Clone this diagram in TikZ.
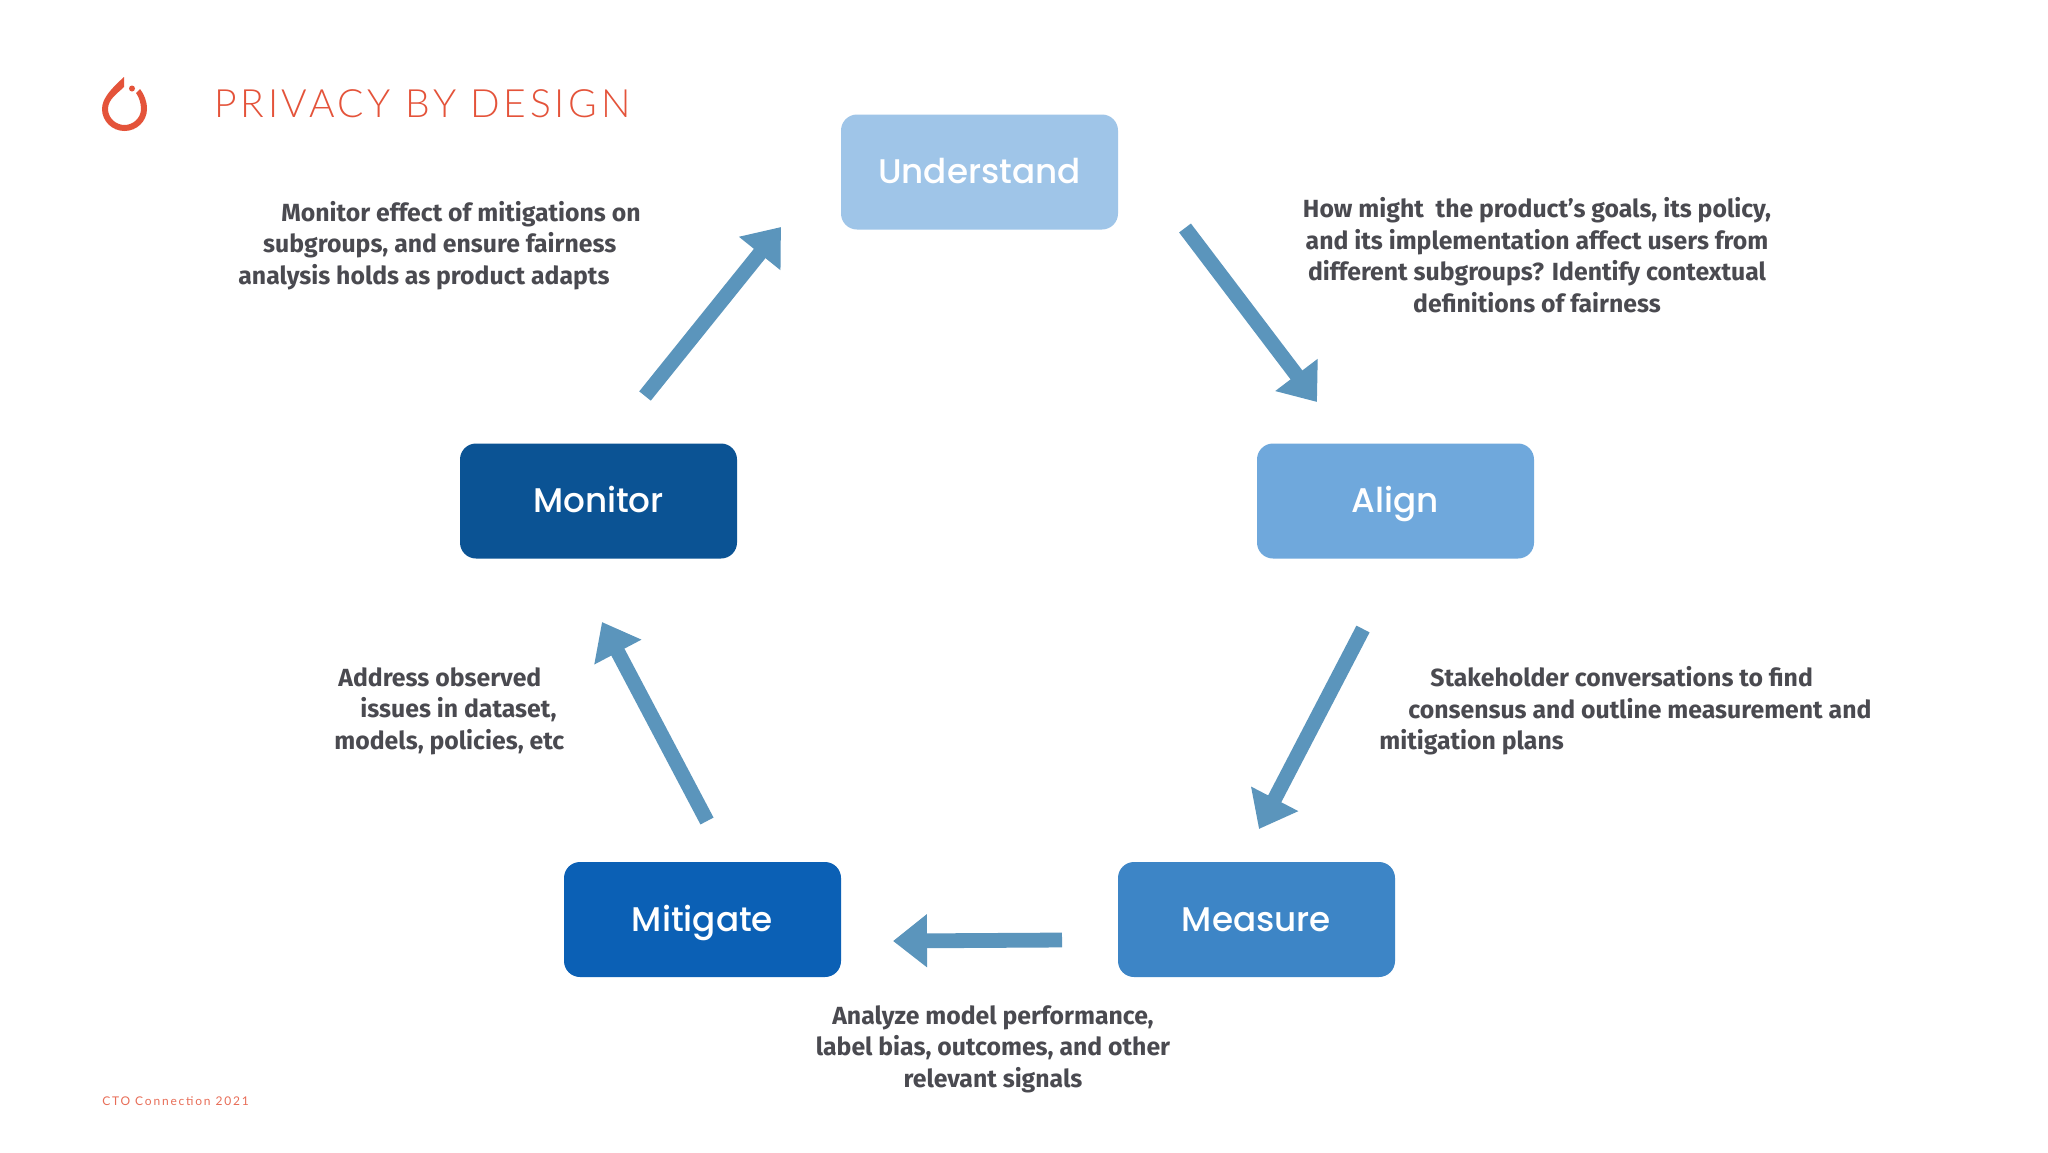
\documentclass[tikz,border=0pt]{standalone}
\usepackage{fontspec}
\usetikzlibrary{arrows.meta}
\setmainfont{Fira Sans}
\newfontfamily\boxfont{Poppins}[UprightFont={* Medium}]
\newfontfamily\titlefont{Lato}[UprightFont={* Light}]
\newfontfamily\footfont{Lato}
\definecolor{cUnder}{HTML}{9FC5E8}
\definecolor{cAlign}{HTML}{6FA8DC}
\definecolor{cMeasure}{HTML}{3D85C6}
\definecolor{cMitigate}{HTML}{0B60B5}
\definecolor{cMonitor}{HTML}{0B5394}
\definecolor{cArrow}{HTML}{5B95BC}
\definecolor{cText}{HTML}{4A4A50}
\definecolor{cRed}{HTML}{E4533A}
\tikzset{
  stagebox/.style={rectangle,rounded corners=8pt,minimum width=138.5pt,minimum height=57.5pt,inner sep=0pt,text=white,text height=14.4pt,text depth=2.8pt,font=\boxfont\fontsize{17.1}{20}\selectfont},
  flow/.style={draw=cArrow,line width=7.4pt,-{Triangle[length=17pt,width=25.5pt]}},
  note/.style={inner sep=0pt,text=cText,font=\fontsize{12.4}{15.75}\selectfont\bfseries},
}
\begin{document}
\begin{tikzpicture}[x=0.5pt,y=-0.5pt]
\path[use as bounding box,fill=white] (0,0) rectangle (2048,1152);
% logo
\fill[cRed] (124,77) .. controls (112,88) and (102,98) .. (102,109)
  .. controls (102,121) and (112,131) .. (124.5,131)
  .. controls (137,131) and (147,121) .. (147,109)
  .. controls (147,101) and (144,94) .. (140,89)
  -- (136,93) .. controls (139,97) and (141,103) .. (141,109)
  .. controls (141,118) and (133,125) .. (124.5,125)
  .. controls (116,125) and (108,118) .. (108,109)
  .. controls (108,99) and (118,93) .. (124,87) -- cycle;
\fill[cRed] (132,88.5) circle[radius=3];
\node[anchor=west,inner sep=0pt,text=cRed,font=\titlefont\fontsize{19.5}{24}\selectfont] (title) at (214,104) {\addfontfeature{LetterSpace=9.5}PRIVACY BY DESIGN};
\node[anchor=west,inner sep=0pt,text=cRed!85,font=\footfont\fontsize{6}{7}\selectfont] (foot) at (102,1101) {\addfontfeature{LetterSpace=15}CTO Connection 2021};
% boxes
\node[stagebox,fill=cUnder] (understand) at (979.5,172) {Understand};
\node[stagebox,fill=cAlign] (align) at (1395.5,501) {Align};
\node[stagebox,fill=cMonitor] (monitor) at (598.5,501) {Monitor};
\node[stagebox,fill=cMitigate] (mitigate) at (702.5,919.5) {Mitigate};
\node[stagebox,fill=cMeasure] (measure) at (1256.5,919.5) {Measure};
% arrows
\coordinate (a1s) at (645,396); \coordinate (a1e) at (781,227);
\coordinate (a2s) at (1185,228); \coordinate (a2e) at (1317,402);
\coordinate (a3s) at (1363,629); \coordinate (a3e) at (1259,829);
\coordinate (a4s) at (1062,940); \coordinate (a4e) at (893,941);
\coordinate (a5s) at (707,821); \coordinate (a5e) at (602,622);
\draw[flow] (a1s) -- (a1e);
\draw[flow] (a2s) -- (a2e);
\draw[flow] (a3s) -- (a3e);
\draw[flow] (a4s) -- (a4e);
\draw[flow] (a5s) -- (a5e);
% notes
\node[note,anchor=west,align=left] (n1) at (238,245.5) {\hspace*{21.5pt}Monitor effect of mitigations on\\\hspace*{12.4pt}subgroups, and ensure fairness\\analysis holds as product adapts};
\node[note,align=center] (n2) at (1537,255) {How might\ \ the product’s goals, its policy,\\and its implementation affect users from\\different subgroups? Identify contextual\\definitions of fairness};
\node[note,anchor=west,align=left] (n3) at (1379,711) {\hspace*{25.5pt}Stakeholder conversations to find\\\hspace*{14.5pt}consensus and outline measurement and\\mitigation plans};
\node[note,anchor=west,align=left] (n4) at (334,711) {\hspace*{2pt}Address observed\\\hspace*{13pt}issues in dataset,\\models, policies, etc};
\node[note,align=center] (n5) at (993,1049) {Analyze model performance,\\label bias, outcomes, and other\\relevant signals};
\end{tikzpicture}
\end{document}
